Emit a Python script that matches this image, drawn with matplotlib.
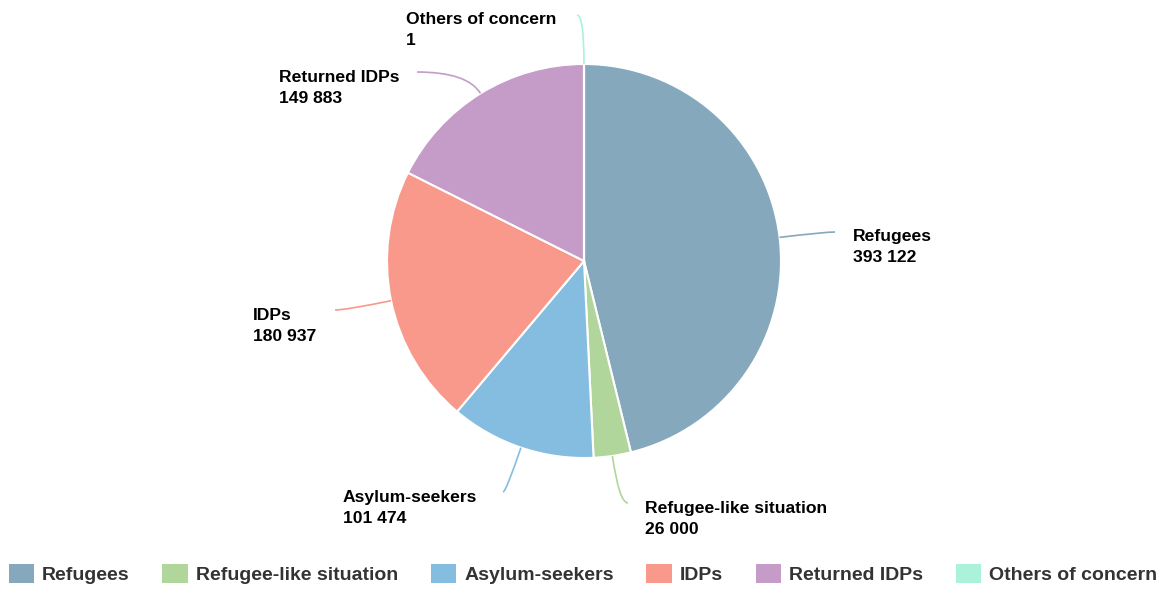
import numpy as np
import matplotlib.pyplot as plt
from matplotlib.patches import Patch, PathPatch
from matplotlib.path import Path

plt.rcParams['font.family'] = ['Liberation Sans', 'DejaVu Sans']

# data
categories = ['Refugees', 'Refugee-like situation', 'Asylum-seekers', 'IDPs',
              'Returned IDPs', 'Others of concern']
values = [393122, 26000, 101474, 180937, 149883, 1]
colors = ['#86a8bd', '#b1d69c', '#85bde0', '#f9998c', '#c59bc7', '#aaf3da']

# layout in pixels (top-left origin): connector end, label left x, label centre y
W, H = 1170, 589
conn_end = [(835, 232), (628, 503), (503, 492), (335, 310), (417, 72), (577, 15)]
label_pos = [(853, 247), (645, 519), (343, 508), (253, 326), (279, 88), (406, 30)]

fig = plt.figure(figsize=(W / 100, H / 100), dpi=100)
ax = fig.add_axes([0, 0, 1, 1])

cx, cy, r = 584, H - 261, 197
wedges, _ = ax.pie(values, colors=colors, startangle=90, counterclock=False,
                   center=(cx, cy), radius=r, frame=True,
                   wedgeprops=dict(edgecolor='white', linewidth=1.5))
ax.set_xlim(0, W)
ax.set_ylim(0, H)
ax.set_aspect('equal')
ax.axis('off')


def fmt(v):
    return '{:,}'.format(v).replace(',', ' ')


for w, name, v, col, (ex, ey), (lx, ly) in zip(wedges, categories, values, colors,
                                                conn_end, label_pos):
    mid = np.deg2rad((w.theta1 + w.theta2) / 2)
    sx, sy = cx + r * np.cos(mid), cy + r * np.sin(mid)
    ey = H - ey
    t = (ey - sy) / np.sin(mid)
    px, py = sx + t * np.cos(mid), ey
    path = Path([(sx, sy), (px, py), (ex, ey)], [Path.MOVETO, Path.CURVE3, Path.CURVE3])
    ax.add_patch(PathPatch(path, facecolor='none', edgecolor=col, lw=1.2))
    ax.text(lx, H - ly, name + '\n' + fmt(v), ha='left', va='center',
            fontsize=12.6, fontweight='bold', color='black', linespacing=1.45)

handles = [Patch(facecolor=c, edgecolor='none') for c in colors]
fig.legend(handles, categories, loc='center', bbox_to_anchor=(583 / W, 1 - 574 / H),
           ncol=6, frameon=False, prop=dict(weight='bold', size=14),
           labelcolor='#333333', handlelength=1.3, handleheight=1.1,
           handletextpad=0.42, columnspacing=1.68)

fig.savefig('out.png', dpi=100)
